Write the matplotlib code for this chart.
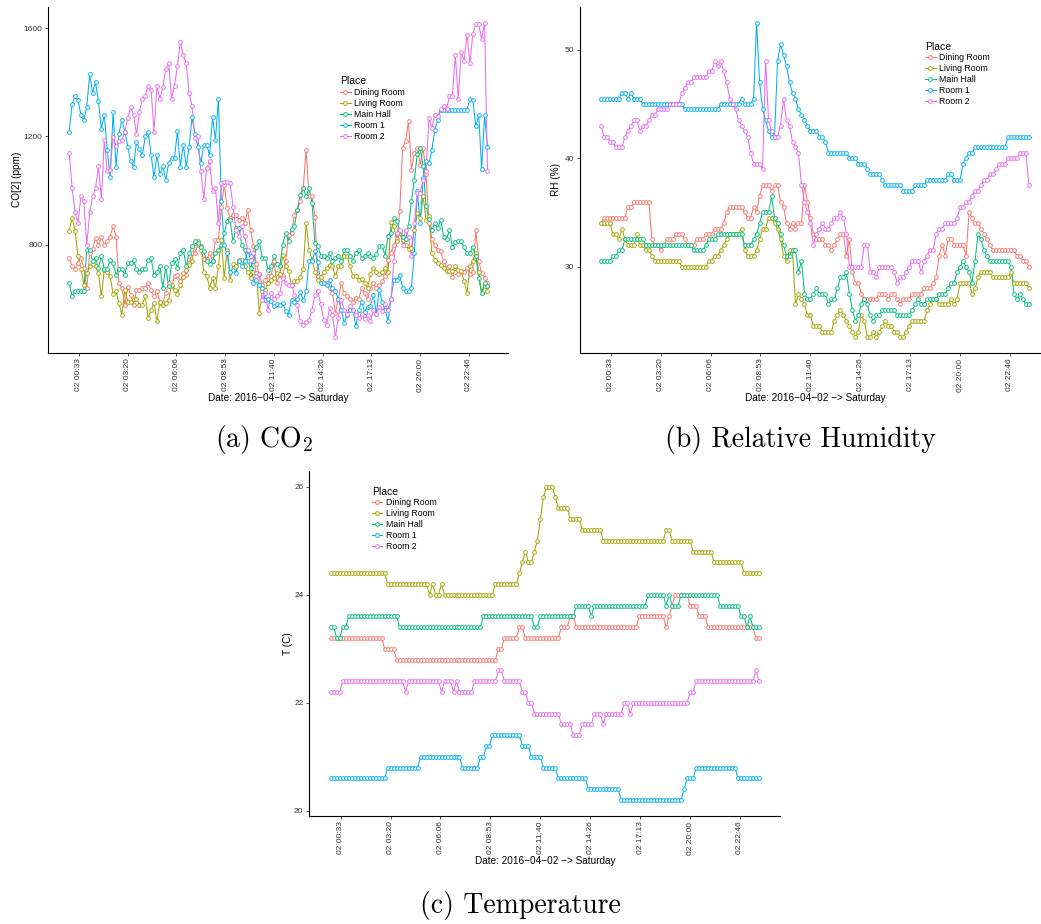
import matplotlib
matplotlib.use('Agg')
import matplotlib.pyplot as plt
from matplotlib.lines import Line2D
import numpy as np

plt.rcParams['font.family'] = ['Liberation Sans', 'DejaVu Sans']
plt.rcParams['mathtext.fontset'] = 'cm'

places = ['Dining Room', 'Living Room', 'Main Hall', 'Room 1', 'Room 2']
colors = ['#F8766D', '#A3A500', '#00BF7D', '#00B0F6', '#E76BF3']
tick_labels = ['02 00:33', '02 03:20', '02 06:06', '02 08:53', '02 11:40',
               '02 14:26', '02 17:13', '02 20:00', '02 22:46']
xlabel = 'Date: 2016\u221204\u221202 \u2212> Saturday'

# readings every 10 minutes from 00:00
hours = np.arange(144) / 6.0

# ---- CO2 (ppm)
co2_dining = [751, 720, 711, 733, 751, 714, 640, 769, 784, 825,
              797, 829, 800, 812, 830, 868, 830, 658, 640, 578,
              645, 615, 578, 634, 634, 640, 640, 658, 634, 609,
              628, 585, 585, 621, 658, 646, 683, 689, 664, 695,
              689, 732, 769, 769, 800, 780, 746, 746, 769, 738,
              818, 818, 941, 1021, 935, 898, 911, 911, 892, 900,
              880, 929, 855, 794, 730, 690, 652, 670, 683, 683,
              738, 660, 689, 683, 740, 837, 843, 911, 929, 960,
              1009, 1151, 978, 978, 904, 683, 670, 658, 658, 640,
              621, 548, 597, 658, 621, 609, 600, 590, 603, 600,
              640, 620, 600, 640, 658, 640, 650, 664, 683, 744,
              769, 800, 820, 923, 1157, 1182, 1256, 1077, 1139, 1157,
              1095, 1157, 1060, 880, 820, 800, 780, 775, 740, 714,
              720, 680, 700, 690, 700, 700, 715, 690, 700, 853,
              740, 695, 677, 658]
co2_living = [852, 898, 852, 757, 711, 652, 695, 720, 728, 720,
              695, 609, 708, 700, 683, 619, 628, 585, 541, 634,
              589, 589, 600, 600, 578, 578, 609, 529, 560, 585,
              517, 588, 578, 585, 597, 650, 634, 618, 652, 680,
              708, 726, 738, 808, 812, 794, 700, 686, 640, 677,
              640, 720, 818, 677, 781, 670, 728, 720, 745, 745,
              720, 700, 677, 700, 695, 548, 628, 634, 660, 670,
              677, 695, 690, 761, 720, 702, 650, 665, 665, 680,
              710, 880, 782, 745, 700, 671, 680, 700, 715, 726,
              720, 683, 720, 720, 757, 757, 720, 683, 683, 671,
              675, 660, 640, 690, 714, 700, 690, 700, 714, 700,
              882, 868, 812, 843, 818, 800, 785, 788, 855, 917,
              898, 978, 892, 905, 769, 745, 732, 725, 715, 702,
              702, 702, 720, 705, 702, 665, 622, 720, 740, 769,
              700, 622, 646, 630]
co2_main = [658, 609, 628, 628, 628, 628, 782, 782, 738, 751,
            714, 757, 711, 711, 743, 732, 689, 711, 711, 689,
            731, 731, 743, 711, 698, 711, 711, 743, 749, 689,
            698, 720, 640, 718, 646, 732, 746, 714, 769, 782,
            720, 769, 794, 812, 808, 790, 775, 740, 730, 740,
            769, 780, 800, 843, 886, 892, 812, 862, 862, 800,
            780, 740, 714, 740, 790, 812, 751, 751, 708, 720,
            757, 730, 720, 800, 843, 812, 858, 870, 929, 985,
            1009, 978, 1009, 954, 806, 794, 760, 760, 751, 770,
            740, 751, 760, 740, 782, 782, 760, 740, 770, 781,
            750, 760, 770, 760, 751, 765, 794, 794, 760, 831,
            843, 898, 889, 850, 830, 820, 870, 960, 1040, 1136,
            1157, 1089, 942, 895, 855, 880, 860, 892, 830, 820,
            855, 790, 810, 812, 812, 790, 769, 769, 790, 760,
            677, 622, 658, 646]
co2_room1 = [1218, 1319, 1350, 1333, 1279, 1259, 1310, 1429, 1360, 1400,
             1329, 1228, 1280, 1150, 1049, 1290, 1088, 1209, 1261, 1218,
             1162, 1108, 1088, 1179, 1152, 1131, 1200, 1218, 1131, 1049,
             1131, 1060, 1090, 1040, 1100, 1121, 1121, 1220, 1088, 1170,
             1088, 1162, 1270, 1209, 1162, 1100, 1170, 1170, 1131, 1270,
             1188, 1340, 960, 798, 770, 700, 705, 695, 740, 720,
             740, 775, 760, 660, 670, 652, 640, 597, 600, 591,
             572, 580, 578, 584, 554, 541, 597, 590, 600, 625,
             595, 628, 738, 738, 775, 735, 658, 658, 650, 670,
             640, 628, 600, 560, 511, 540, 560, 560, 498, 560,
             590, 550, 570, 575, 615, 545, 634, 590, 560, 517,
             600, 671, 671, 689, 640, 628, 628, 640, 769, 997,
             880, 1046, 1108, 1100, 1151, 1225, 1260, 1298, 1298, 1298,
             1298, 1298, 1298, 1298, 1298, 1298, 1298, 1339, 1333, 1237,
             1280, 1079, 1280, 1160]
co2_room2 = [1138, 1009, 919, 880, 978, 960, 798, 919, 978, 1009,
             1089, 969, 1188, 1071, 1077, 1198, 1163, 1182, 1188, 1218,
             1268, 1308, 1280, 1209, 1290, 1339, 1350, 1388, 1372, 1218,
             1388, 1339, 1381, 1450, 1471, 1339, 1388, 1460, 1548, 1499,
             1471, 1360, 1311, 1194, 1200, 1071, 970, 1083, 1108, 997,
             1009, 880, 1028, 1030, 1031, 1028, 940, 855, 831, 868,
             831, 782, 745, 770, 683, 690, 597, 620, 560, 621,
             600, 610, 620, 677, 660, 652, 652, 615, 578, 517,
             505, 515, 523, 560, 615, 628, 580, 523, 505, 566,
             540, 459, 530, 597, 560, 545, 572, 560, 541, 530,
             545, 525, 540, 517, 560, 545, 570, 555, 580, 560,
             600, 738, 843, 856, 800, 856, 830, 757, 880, 991,
             991, 1040, 1071, 1268, 1231, 1280, 1274, 1300, 1311, 1300,
             1348, 1348, 1502, 1339, 1510, 1480, 1575, 1471, 1579, 1614,
             1614, 1560, 1620, 1071]

# ---- relative humidity (%)
rh_dining = [34, 34.5, 34.5, 34.5, 34.5, 34.5, 34.5, 34.5, 34.5, 35.5,
             35.5, 36, 36, 36, 36, 36, 36, 32.5, 32, 32,
             31.5, 32, 32.5, 32.5, 32.5, 33, 33, 33, 32.5, 32,
             32, 32, 32.5, 32.5, 32.5, 33, 33, 33, 33.5, 33.5,
             33.5, 34, 35, 35.5, 35.5, 35.5, 35.5, 35.5, 35, 34.5,
             34.5, 35.5, 35, 36.5, 37.5, 37.5, 37.5, 37, 37.5, 37.5,
             36, 35.5, 34, 33.5, 34, 33.5, 34, 34, 37.5, 36,
             34.5, 33, 32.5, 32.5, 32.5, 32, 32, 31.5, 32, 32.5,
             33, 33, 31, 32.5, 29.5, 28.5, 28.5, 27.5, 27, 27,
             27, 27, 27, 27.5, 27.5, 27.5, 27, 27.5, 27.5, 27,
             26.5, 27, 27, 27, 27.5, 27.5, 27.5, 27.5, 28, 28,
             28, 28.5, 29, 31, 32, 31, 32.5, 32.5, 32, 32,
             32, 32, 31, 35, 34.5, 34, 34, 33.5, 33, 32.5,
             32, 31.5, 31.5, 31.5, 31.5, 31.5, 31.5, 31.5, 31.5, 31,
             31, 30.5, 30.5, 30]
rh_living = [34, 34, 34, 34, 33, 33, 32.5, 33.5, 32.5, 32,
             32, 32, 33, 32, 32, 31.5, 31.5, 31, 30.5, 30.5,
             30.5, 30.5, 30.5, 30.5, 30.5, 30.5, 30.5, 30, 30, 30,
             30, 30, 30, 30, 30, 30, 30.5, 30.5, 31, 31,
             31.5, 32, 32.5, 33, 33, 33, 33, 33.5, 31.5, 31,
             31, 31, 31.5, 32.5, 33.5, 33.5, 34.5, 34.5, 34, 33.5,
             32.5, 31, 30.5, 31.5, 31.5, 26.5, 27.5, 27, 26.5, 25.5,
             25.5, 24.5, 24.5, 24.5, 24, 24, 24, 24, 25, 25.5,
             26, 25.5, 25, 24.5, 24, 23.5, 24, 25.5, 25, 23.5,
             23.5, 24, 23.5, 24, 24.5, 25, 24.5, 24.5, 24, 24,
             23.5, 23.5, 24, 24.5, 25, 25, 25, 25, 25, 26,
             26.5, 27, 27, 26.5, 26.5, 26.5, 26.5, 27, 26.5, 27,
             28.5, 28.5, 28.5, 28.5, 27.5, 28, 29, 29.5, 29.5, 29.5,
             29.5, 29, 29, 29, 29, 29, 29, 29.5, 28.5, 28.5,
             28.5, 28.5, 28.5, 28]
rh_main = [30.5, 30.5, 30.5, 30.5, 31, 31, 31.5, 31.5, 32.5, 32.5,
           32.5, 32.5, 32.5, 32.5, 32.5, 32, 32, 32, 32, 32,
           32, 32, 32, 32, 32, 32, 32, 32, 32, 32,
           32, 31.5, 31.5, 31.5, 31.5, 32, 32.5, 32.5, 32.5, 33,
           33, 33, 33, 33, 33, 33, 33, 33, 32, 32,
           32, 32.5, 33, 34, 35, 35, 35, 36.5, 34.5, 34,
           33, 32, 31, 31, 31.5, 31.5, 29.5, 30.5, 27.5, 27,
           27, 27.5, 28, 27.5, 27.5, 27.5, 26.5, 27, 27, 28,
           29, 29, 29.5, 27.5, 26, 25, 25.5, 26.5, 27, 26.5,
           25.5, 25, 25.5, 25.5, 26, 26, 26, 26, 26, 25.5,
           25.5, 25.5, 25.5, 25.5, 26, 26.5, 27, 26.5, 26.5, 27,
           27, 27, 27, 27.5, 27.5, 27.5, 28, 28.5, 28.5, 29.5,
           30, 30.5, 30, 29.5, 28.5, 30.5, 33, 32.5, 31.5, 31,
           30.5, 30.5, 30.5, 30.5, 30.5, 30.5, 30.5, 30, 27.5, 27,
           27.5, 27, 26.5, 26.5]
rh_room1 = [45.5, 45.5, 45.5, 45.5, 45.5, 45.5, 45.5, 46, 46, 45.5,
            46, 45.5, 45.5, 45.5, 45, 45, 45, 45, 45, 45,
            45, 45, 45, 45, 45, 45, 45, 45, 44.5, 44.5,
            44.5, 44.5, 44.5, 44.5, 44.5, 44.5, 44.5, 44.5, 44.5, 44.5,
            45, 45, 45, 45, 45, 45, 45, 45.5, 45, 45,
            45, 45.5, 52.5, 47, 44.5, 43.5, 42.5, 42, 42, 49,
            50.5, 49.5, 48.5, 47, 46, 45.5, 44.5, 44, 43.5, 43,
            42.5, 42.5, 42.5, 42, 42, 41.5, 40.5, 40.5, 40.5, 40.5,
            40.5, 40.5, 40.5, 40, 40, 40, 39.5, 39.5, 39.5, 39,
            38.5, 38.5, 38.5, 38.5, 38, 37.5, 37.5, 37.5, 37.5, 37.5,
            37.5, 37, 37, 37, 37, 37.5, 37.5, 37.5, 37.5, 38,
            38, 38, 38, 38, 38, 38, 38.5, 38.5, 38, 38,
            38, 39.5, 40, 40.5, 40.5, 41, 41, 41, 41, 41,
            41, 41, 41, 41, 41, 41, 42, 42, 42, 42,
            42, 42, 42, 42]
rh_room2 = [43, 42, 42, 41.5, 41.5, 41, 41, 41, 42, 42.5,
            43, 43.5, 43.5, 42.5, 43, 43, 43.5, 44, 44, 44.5,
            44.5, 44.5, 44.5, 45, 45, 45, 45, 46, 46.5, 47,
            47, 47.5, 47.5, 47.5, 47.5, 47.5, 48, 48, 49, 48.5,
            49, 48, 47, 45.5, 45, 44.5, 43.5, 43, 42.5, 42,
            40.5, 39.5, 39.5, 39.5, 39, 49, 43.5, 42.5, 42, 42,
            43, 45.5, 43.5, 43, 41.5, 41, 40.5, 37.5, 36, 35,
            34, 32, 33, 33.5, 34, 33.5, 33.5, 34, 34.5, 34.5,
            35, 34.5, 33, 30, 30, 30, 30, 30, 32, 32,
            29.5, 29.5, 29, 30, 30, 30, 30, 30, 29.5, 28.5,
            29, 29, 29.5, 30, 30.5, 30.5, 30.5, 29.5, 30.5, 31,
            31.5, 31.5, 33, 33.5, 33.5, 34, 34, 34, 34, 34.5,
            35.5, 35.5, 36, 36, 36.5, 37, 37, 37.5, 38, 38,
            38.5, 38.5, 39, 39.5, 39.5, 39.5, 40, 40, 40, 40,
            40.5, 40.5, 40.5, 37.5]

# ---- temperature (C)
t_dining = [23.2] * 18 + [23.0] * 4 + [22.8] * 34 + [23.0] * 2 + [23.2] * 5 \
    + [23.4] * 2 + [23.2] * 12 + [23.4] * 3 + [23.6] * 2 + [23.4] * 21 \
    + [23.6] * 9 + [23.4, 23.6, 23.8] + [24.0] * 5 + [23.8] * 3 + [23.6] * 3 \
    + [23.4] * 16 + [23.2] * 2
t_living = [24.4] * 19 + [24.2] * 14 + [24.0, 24.2, 24.0, 24.0, 24.2] + [24.0] * 17 \
    + [24.2] * 8 + [24.4, 24.6, 24.8, 24.6, 24.6, 24.8, 25.0, 25.4, 25.8, 26.0, 26.0, 26.0, 25.8] \
    + [25.6] * 4 + [25.4] * 4 + [25.2] * 7 + [25.0] * 21 + [25.2] * 2 + [25.0] * 7 \
    + [24.8] * 7 + [24.6] * 10 + [24.4] * 6
t_main = [23.4, 23.4, 23.2, 23.2, 23.4, 23.4] + [23.6] * 17 + [23.4] * 28 + [23.6] * 17 \
    + [23.4] * 2 + [23.6] * 12 + [23.8] * 5 + [23.6] + [23.8] * 18 + [24.0] * 6 \
    + [23.8, 24.0] + [23.8] * 3 + [24.0] * 13 + [23.8] * 7 \
    + [23.6, 23.6, 23.4, 23.6, 23.4, 23.4, 23.4]
t_room1 = [20.6] * 19 + [20.8] * 11 + [21.0] * 14 + [20.8] * 6 + [21.0] * 2 + [21.2] * 2 \
    + [21.4] * 10 + [21.2] * 3 + [21.0] * 4 + [20.8] * 5 + [20.6] * 10 + [20.4] * 11 \
    + [20.2] * 21 + [20.4] + [20.6] * 3 + [20.8] * 14 + [20.6] * 8
t_room2 = [22.2] * 4 + [22.4] * 21 + [22.2] + [22.4] * 11 + [22.2] + [22.4] * 3 + [22.2] \
    + [22.4] + [22.2] * 5 + [22.4] * 8 + [22.6] * 2 + [22.4] * 6 + [22.2] * 2 + [22.0] * 2 \
    + [21.8] * 9 + [21.6] * 4 + [21.4] * 3 + [21.6] * 4 + [21.8] * 3 + [21.6] + [21.8] * 6 \
    + [22.0] * 2 + [21.8] + [22.0] * 19 + [22.2] * 2 + [22.4] * 20 + [22.6, 22.4]

co2 = [co2_dining, co2_living, co2_main, co2_room1, co2_room2]
rh = [rh_dining, rh_living, rh_main, rh_room1, rh_room2]
temp = [t_dining, t_living, t_main, t_room1, t_room2]
for s in co2 + rh + temp:
    assert len(s) == 144, len(s)

tick_pos = [int(s[3:5]) + int(s[6:8]) / 60 for s in tick_labels]

W, H = 1041, 924
fig = plt.figure(figsize=(W / 100, H / 100), dpi=100)


def panel(box, series, ylabel, yticks, leg_anchor, ylab_x):
    l, t, r, b = box
    ax = fig.add_axes([l / W, 1 - b / H, (r - l) / W, (b - t) / H])
    for vals, c in zip(series, colors):
        ax.plot(hours, vals, color=c, lw=0.75, zorder=2)
    for vals, c in zip(series, colors):
        ax.plot(hours, vals, ls='none', marker='o', ms=2.7, mfc='white',
                mec=c, mew=0.65, zorder=3)
    for side in ['top', 'right']:
        ax.spines[side].set_visible(False)
    for side in ['left', 'bottom']:
        ax.spines[side].set_linewidth(0.8)
    ax.set_xticks(tick_pos)
    ax.set_xticklabels(tick_labels, rotation=90)
    ax.set_yticks(yticks)
    ax.tick_params(labelsize=6.0, labelcolor='#333333', length=2.2, width=0.6,
                   pad=2, color='#333333')
    ax.set_xlabel(xlabel, fontsize=7.2)
    ax.set_ylabel(ylabel, fontsize=7.2)
    ax.xaxis.set_label_coords(0.5, -0.118)
    ax.xaxis.label.set_va('top')
    ax.yaxis.set_label_coords(ylab_x, 0.5)
    handles = [Line2D([], [], color=c, lw=0.75, marker='o', ms=2.7, mfc='white',
                      mec=c, mew=0.65) for c in colors]
    leg = ax.legend(handles, places, title='Place', loc='upper left',
                    bbox_to_anchor=leg_anchor, frameon=False, fontsize=6.3,
                    title_fontsize=7.5, handlelength=1.2, handletextpad=0.4,
                    labelspacing=0.22, borderaxespad=0, borderpad=0)
    leg._legend_box.align = 'left'
    return ax


panel((48.3, 7, 508.4, 352.7), co2, 'CO[2] (ppm)', [800, 1200, 1600],
      (0.634, 0.80), -0.057)
panel((579.6, 7, 1050.3, 352.7), rh, 'RH (%)', [30, 40, 50],
      (0.734, 0.90), -0.040)
panel((309.3, 471, 780.4, 815.7), temp, 'T (C)', [20, 22, 24, 26],
      (0.133, 0.955), -0.035)

cap = dict(family='cmr10', fontsize=20, ha='center', va='center')
fig.text(264 / W, 1 - 440 / H, '(a) CO$_2$', **cap)
fig.text(800 / W, 1 - 440 / H, '(b) Relative Humidity', **cap)
fig.text(520 / W, 1 - 905 / H, '(c) Temperature', **cap)

fig.savefig('out.png', dpi=100)
